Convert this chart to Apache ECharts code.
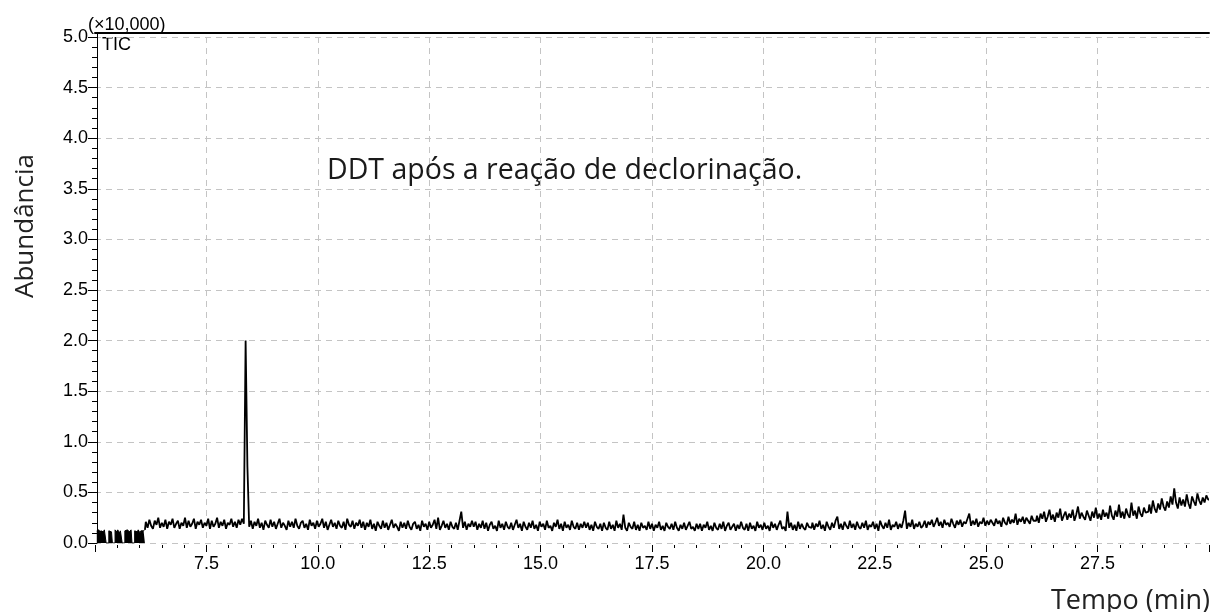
<!DOCTYPE html>
<html>
<head>
<meta charset="utf-8">
<script src="https://cdn.jsdelivr.net/npm/echarts@6/dist/echarts.min.js"></script>
<style>
  html, body { margin: 0; padding: 0; background: #ffffff; }
  #chart { width: 1212px; height: 612px; }
</style>
</head>
<body>
<div id="chart"></div>
<script>
// GC-MS total ion chromatogram (TIC). Abundance values are stored in units of
// 100 counts; the y axis is shown in units of 10,000 counts.
const SCAN_STEP = 0.04;      // minutes between scans
const LOW_SCAN_STEP = 0.02;  // faster scanning during the solvent delay

// solvent-delay block before the detector switches to full range
const lowPhaseStart = 5.04;
const lowPhase = [
  12, 11, 13, 12, 10, 12, 13, 11, 12, 13, 12,
  0, 0, 0,
  12, 13, 11, 12,
  0, 0, 0,
  13, 12, 11, 13, 12, 10, 12, 13,
  0, 0, 0,
  12, 11, 13, 12, 13, 11, 12, 13,
  0, 0, 0,
  12, 13, 11, 12, 13, 12, 10, 12, 13, 12, 11, 13
];

const baselineAStart = 6.16;
const baselineA = [
  21, 15, 23, 17, 14, 22, 18, 25, 15, 20,
  16, 23, 14, 21, 18, 24, 15, 19, 22, 14,
  20, 17, 25, 15, 22, 16, 19, 24, 14, 21,
  18, 23, 15, 20, 17, 24, 14, 22, 16, 19,
  25, 15, 21, 17, 23, 14, 20, 18, 24, 16,
  21, 15, 23, 18, 24, 19
];

const ddtPeakStart = 8.40;
const ddtPeak = [200, 76];

const baselineBStart = 8.48;
const baselineB = [
  16, 22, 14, 21, 17, 24, 15, 20, 13, 22,
  18, 15, 23, 16, 21, 14, 19, 24, 15, 20,
  17, 13, 22, 16, 21, 15, 24, 17, 14, 20,
  22, 15, 19, 13, 23, 17, 20, 14, 22, 16,
  19, 24, 15, 21, 13, 18, 23, 16, 20, 14,
  22, 17, 15, 21, 13, 24, 18, 16, 22, 14,
  20, 17, 23
];

const baselineCStart = 11.00;
const baselineC = [
  15, 21, 13, 20, 16, 23, 14, 19, 12, 21,
  17, 14, 22, 15, 20, 13, 18, 23, 15, 19,
  16, 12, 21, 15, 20, 14, 22, 16, 13, 19,
  21, 14, 18, 12, 22, 16, 19, 13, 21, 15,
  18, 23, 14, 25, 13, 17, 22, 15, 19, 13,
  21, 16, 14, 20, 13, 22, 31, 15, 21, 13,
  19, 16, 22
];

const baselineDStart = 13.52;
const baselineD = [
  16, 21, 13, 19, 15, 22, 14, 20, 12, 18,
  21, 14, 17, 12, 22, 15, 19, 13, 21, 16,
  14, 20, 13, 18, 23, 15, 19, 12, 21, 16,
  13, 20, 15, 22, 14, 18, 12, 21, 16, 19,
  13, 22, 15, 17, 12, 20, 16, 23, 14, 19,
  12, 21, 15, 18, 13, 22, 16, 14, 20, 13,
  19, 15, 21
];

const baselineEStart = 16.04;
const baselineE = [
  15, 20, 13, 18, 12, 21, 16, 14, 19, 12,
  20, 15, 13, 21, 14, 18, 12, 22, 15, 19,
  13, 28, 15, 12, 20, 16, 14, 21, 13, 18,
  12, 20, 15, 17, 13, 21, 14, 19, 12, 18,
  15, 21, 13, 17, 12, 20, 16, 14, 19, 13,
  21, 15, 12, 18, 14, 20, 13, 17, 21, 14,
  16, 12, 19
];

const baselineFStart = 18.56;
const baselineF = [
  14, 19, 12, 18, 15, 21, 13, 17, 12, 20,
  15, 13, 19, 14, 21, 12, 17, 20, 13, 16,
  19, 12, 18, 14, 21, 15, 13, 19, 12, 20,
  14, 17, 12, 21, 15, 18, 13, 20, 14, 17,
  12, 21, 15, 19, 13, 18, 22, 14, 16, 12,
  31, 15, 20, 13, 18, 12, 21, 14, 19, 15,
  13, 20, 16
];

const baselineGStart = 21.08;
const baselineG = [
  15, 20, 13, 19, 16, 22, 14, 18, 12, 21,
  16, 13, 20, 15, 22, 26, 14, 19, 13, 21,
  17, 14, 22, 15, 19, 13, 21, 16, 14, 20,
  15, 22, 13, 18, 16, 21, 14, 19, 12, 22,
  17, 14, 20, 15, 23, 13, 18, 16, 21, 14,
  19, 15, 22, 32, 14, 20, 16, 23, 14, 19,
  16, 21, 15
];

const driftAStart = 23.60;
const driftA = [
  17, 22, 15, 21, 18, 23, 16, 20, 25, 17,
  21, 15, 23, 18, 20, 16, 24, 19, 15, 22,
  18, 23, 16, 21, 19, 24, 29, 17, 22, 18,
  24, 16, 21, 19, 25, 17, 22, 18, 23, 20,
  17, 24, 19, 22, 16, 25, 20, 18, 26, 19,
  23, 20, 29, 18, 24, 21, 26, 19, 25, 22,
  19, 27, 22
];

const driftBStart = 26.12;
const driftB = [
  22, 27, 20, 29, 24, 31, 21, 26, 33, 23,
  28, 21, 30, 25, 34, 22, 27, 31, 23, 29,
  25, 33, 22, 28, 36, 24, 30, 26, 23, 32,
  27, 22, 31, 25, 35, 24, 29, 23, 33, 26,
  30, 24, 37, 27, 23, 32, 26, 38, 25, 31,
  24, 34, 28, 25, 40, 27, 32, 24, 36, 29,
  26, 35, 30
];

const driftCStart = 28.64;
const driftC = [
  31, 38, 29, 42, 34, 30, 39, 33, 44, 36,
  32, 41, 35, 46, 38, 54, 40, 34, 45, 37,
  43, 36, 48, 39, 34, 46, 41, 37, 49, 42,
  38, 45, 40, 47, 43
];

const xTickInterval = 2.5;   // minutes
const yTickInterval = 0.5;   // ×10,000

const toPoints = (start, step, values) =>
  values.map((v, i) => [+(start + i * step).toFixed(2), v / 100]);

const lowData = toPoints(lowPhaseStart, LOW_SCAN_STEP, lowPhase);

const ticData = [lowData[lowData.length - 1]];
[
  [baselineAStart, baselineA],
  [ddtPeakStart, ddtPeak],
  [baselineBStart, baselineB],
  [baselineCStart, baselineC],
  [baselineDStart, baselineD],
  [baselineEStart, baselineE],
  [baselineFStart, baselineF],
  [baselineGStart, baselineG],
  [driftAStart, driftA],
  [driftBStart, driftB],
  [driftCStart, driftC]
].forEach(([start, values]) => {
  ticData.push(...toPoints(start, SCAN_STEP, values));
});

const gridDash = { color: '#c4c4c4', width: 1, type: [6, 5] };
const tickFont = { fontFamily: 'Liberation Sans', fontSize: 18, color: '#000' };

const chart = echarts.init(document.getElementById('chart'), null, { renderer: 'canvas' });

chart.setOption({
  animation: false,
  backgroundColor: '#ffffff',
  grid: { left: 95, right: 1, top: 37, bottom: 69, containLabel: false },
  xAxis: [
    {
      type: 'value',
      min: 5.0,
      max: 30.0,
      interval: xTickInterval,
      offset: 2,
      axisLine: { show: false, onZero: false },
      axisTick: { show: true, length: 7, lineStyle: { color: '#000', width: 1 } },
      minorTick: { show: true, splitNumber: 5, length: 3, lineStyle: { color: '#000', width: 1 } },
      axisLabel: Object.assign({
        margin: 10,
        formatter: v => (v <= 5.0 || v >= 30.0) ? '' : v.toFixed(1)
      }, tickFont),
      splitLine: { show: true, showMinLine: false, showMaxLine: false, lineStyle: gridDash }
    },
    {
      // frame line along the top of the plot
      type: 'value',
      position: 'top',
      min: 5.0,
      max: 30.0,
      offset: 4,
      axisLine: { show: true, onZero: false, lineStyle: { color: '#000', width: 2 } },
      axisTick: { show: false },
      axisLabel: { show: false },
      splitLine: { show: false }
    }
  ],
  yAxis: {
    type: 'value',
    min: 0,
    max: 5.0,
    interval: yTickInterval,
    offset: -2,
    axisLine: { show: true, onZero: false, lineStyle: { color: '#000', width: 1 } },
    axisTick: { show: true, length: 9, lineStyle: { color: '#000', width: 1 } },
    minorTick: { show: true, splitNumber: 5, length: 5, lineStyle: { color: '#000', width: 1 } },
    axisLabel: Object.assign({
      margin: 9,
      formatter: v => v.toFixed(1)
    }, tickFont),
    splitLine: { show: true, showMinLine: true, showMaxLine: true, lineStyle: gridDash }
  },
  series: [
    {
      name: 'TIC (solvent delay)',
      type: 'line',
      data: lowData,
      step: 'middle',
      showSymbol: false,
      symbol: 'none',
      sampling: false,
      lineStyle: { color: '#000', width: 1 },
      areaStyle: { color: '#000', opacity: 1 },
      z: 3
    },
    {
      // scans drawn as held values, so each scan shows as a vertical stroke
      name: 'TIC',
      type: 'line',
      data: ticData,
      step: 'middle',
      showSymbol: false,
      symbol: 'none',
      sampling: false,
      lineStyle: { color: '#000', width: 1.8 },
      z: 3
    }
  ],
  graphic: [
    {
      // y-axis line continued up to the top frame
      type: 'line',
      shape: { x1: 97.5, y1: 33, x2: 97.5, y2: 37 },
      style: { stroke: '#000', lineWidth: 1 }
    },
    {
      type: 'text', x: 88, y: 25,
      style: { text: '(×10,000)', font: '18px "Liberation Sans"', fill: '#000', verticalAlign: 'middle' }
    },
    {
      type: 'text', x: 102, y: 45,
      style: { text: 'TIC', font: '18px "Liberation Sans"', fill: '#000', verticalAlign: 'middle' }
    },
    {
      type: 'text', x: 327, y: 171,
      style: { text: 'DDT após a reação de declorinação.', font: '28.5px "Open Sans"', fill: '#1a1a1a', verticalAlign: 'middle' }
    },
    {
      type: 'text',
      x: 26, y: 226,
      rotation: Math.PI / 2,
      style: {
        text: 'Abundância', font: '26px "Open Sans"', fill: '#222',
        align: 'center', verticalAlign: 'middle'
      }
    },
    {
      type: 'text', x: 1210, y: 601,
      style: { text: 'Tempo (min)', font: '27px "Open Sans"', fill: '#222', align: 'right', verticalAlign: 'middle' }
    }
  ]
});
</script>
</body>
</html>
